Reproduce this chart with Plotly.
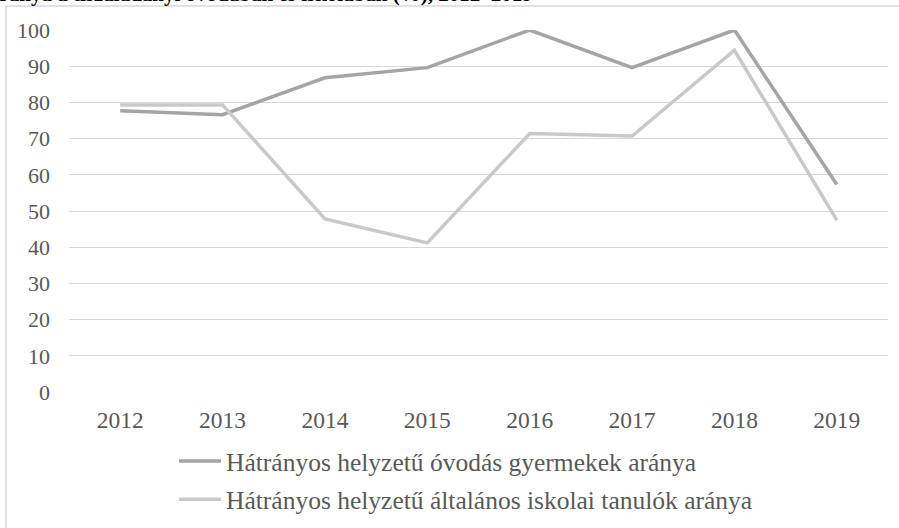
import plotly.graph_objects as go

years = ["2012", "2013", "2014", "2015", "2016", "2017", "2018", "2019"]
ovodas = [77.7, 76.6, 86.8, 89.6, 100.0, 89.6, 100.0, 57.3]
iskolai = [79.3, 79.3, 47.8, 41.2, 71.4, 70.7, 94.4, 47.5]
series_names = [
    "Hátrányos helyzetű óvodás gyermekek aránya",
    "Hátrányos helyzetű általános iskolai tanulók aránya",
]
y_ticks = [0, 10, 20, 30, 40, 50, 60, 70, 80, 90, 100]
title_text = "A hátrányos helyzetű gyermekek, tanulók aránya a tiszaladányi óvodában és iskolában (%), 2012–2019"

W, H = 899, 528
L, R, T, B = 69, 11, 30, 136
pw, ph = W - L - R, H - T - B

def px_x(px):
    return (px - L) / pw

def px_y(py):
    return (H - B - py) / ph

FONT = "Liberation Serif, Times New Roman, serif"
TXT = "#595959"

fig = go.Figure()
fig.add_trace(go.Scatter(x=years, y=ovodas, mode="lines", name=series_names[0],
                         line=dict(color="#A5A5A8", width=3.5), legendgroup="a"))
fig.add_trace(go.Scatter(x=years, y=iskolai, mode="lines", name=series_names[1],
                         line=dict(color="#C9C9C9", width=3.5), legendgroup="b"))

fig.update_layout(
    width=W, height=H,
    margin=dict(l=L, r=R, t=T, b=B, pad=0, autoexpand=False),
    paper_bgcolor="white", plot_bgcolor="white",
    font=dict(family=FONT, color=TXT, size=22),
    showlegend=True,
    legend=dict(x=px_x(174), y=px_y(438), xanchor="left", yanchor="top",
                font=dict(family=FONT, size=25.5, color=TXT),
                tracegroupgap=2, traceorder="grouped",
                bgcolor="rgba(0,0,0,0)", borderwidth=0, itemwidth=42),
    xaxis=dict(type="category", range=[-0.5, 7.5], showgrid=False, zeroline=False,
               showline=False, ticks="", automargin=False,
               tickfont=dict(family=FONT, size=23.5, color=TXT),
               ticklabelstandoff=11),
    yaxis=dict(range=[0, 100], tickvals=y_ticks, showgrid=True, gridcolor="#D9D9D9",
               gridwidth=1, zeroline=False, showline=False, ticks="", automargin=False,
               tickfont=dict(family=FONT, size=22, color=TXT), ticklabelstandoff=18),
    shapes=[dict(type="rect", xref="paper", yref="paper",
                 x0=px_x(6), x1=px_x(960), y0=px_y(600), y1=px_y(6),
                 line=dict(color="#D9D9D9", width=1.5), fillcolor="rgba(0,0,0,0)",
                 layer="below")],
    annotations=[dict(text=title_text, xref="paper", yref="paper",
                      x=px_x(535), y=px_y(8), xanchor="right", yanchor="bottom",
                      showarrow=False,
                      font=dict(family=FONT, size=21, color="#000000", weight="bold"))],
)

fig.write_html("out.html",
               config={"displayModeBar": False},
               post_script="document.body.style.margin='0';document.body.style.overflow='hidden';")
